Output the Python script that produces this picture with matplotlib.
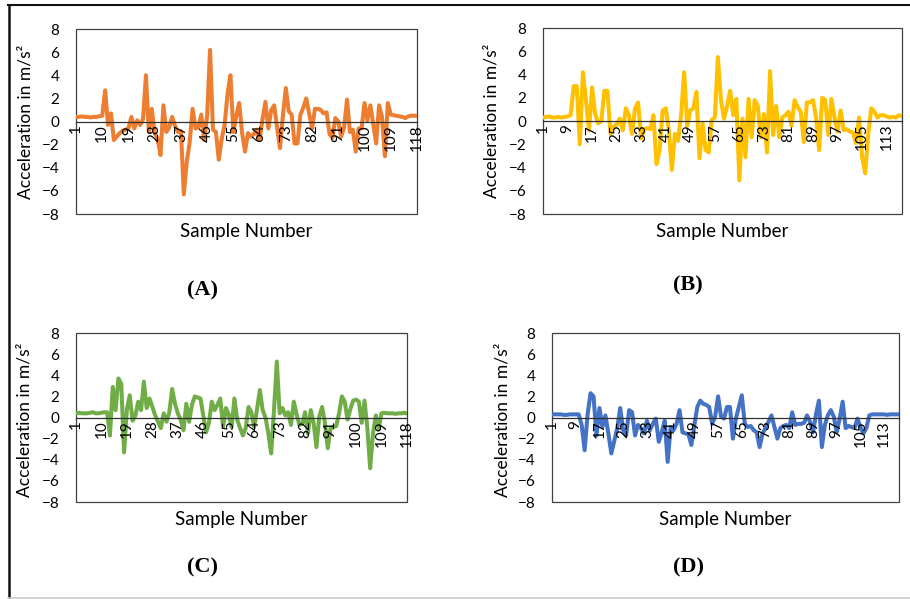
import matplotlib.pyplot as plt
from matplotlib.lines import Line2D
from matplotlib.patches import Rectangle
import numpy as np

plt.rcParams['font.family'] = ['Lato', 'DejaVu Sans']

# sample numbers 1..118 for every panel
samples = np.arange(1, 119)

# (A) orange
acc_a = [0.4, 0.4, 0.45, 0.4, 0.4, 0.35, 0.4, 0.4, 0.45, 0.5,
         2.7, -0.3, 0.7, -1.6, -1.3, -1.0, -0.8, -0.7, -0.6, 0.4,
         -0.6, 0.1, -0.3, 0.2, 4.0, -0.9, 1.1, -1.0, -1.5, -2.9,
         1.4, -0.9, -0.5, 0.4, -0.4, -0.9, -0.8, -6.3, -3.5, -1.8,
         1.1, -0.6, -0.5, 0.6, -1.6, 0.5, 6.2, -0.7, -0.9, -3.3,
         -1.5, -0.3, 2.4, 4.0, -0.9, 0.5, 1.6, -1.0, -2.6, -1.0,
         -1.3, -1.1, -0.7, -1.6, 0.2, 1.7, -0.6, 1.0, 1.4, -0.5,
         -2.3, 0.5, 2.9, 0.9, 0.6, -1.9, -1.9, 0.6, 1.2, 2.0,
         0.7, -0.6, 1.1, 1.1, 1.0, 0.7, 0.8, -1.1, -1.4, 0.3,
         0.0, -1.3, -0.5, 1.9, -0.9, -0.7, -2.6, -0.6, -0.6, 1.6,
         0.1, 1.4, -0.2, -1.9, 1.4, 0.4, -3.0, 1.6, 0.6, 0.55,
         0.5, 0.45, 0.4, 0.3, 0.45, 0.5, 0.5, 0.5]

# (B) yellow
acc_b = [0.3, 0.35, 0.4, 0.3, 0.3, 0.35, 0.3, 0.35, 0.4, 0.5,
         3.0, 3.0, -2.0, 4.2, 1.8, -0.8, 2.9, 0.6, -0.2, 0.0,
         2.6, 2.6, -1.1, -0.5, -0.3, 0.2, -0.8, 1.1, 0.5, -1.1,
         1.1, 1.6, -1.5, -0.7, -0.6, -0.7, 0.5, -3.7, -2.5, 0.9,
         1.1, -0.8, -4.2, -1.1, -1.7, 0.5, 4.2, -0.4, 0.9, 1.1,
         2.5, -3.2, -0.2, -2.5, -2.7, 0.1, 0.3, 5.5, 1.8, 0.2,
         1.3, 2.6, 0.5, 1.9, -5.1, 0.2, -3.1, 1.9, -1.4, 1.8,
         1.3, -1.4, 0.6, -2.7, 4.3, -1.2, 1.3, -1.4, 0.3, 0.5,
         0.8, -0.4, 1.8, 1.2, 0.8, -1.8, 1.6, 1.6, 1.8, 0.3,
         -2.5, 2.0, 1.8, -1.2, 1.9, 0.3, -0.9, 0.9, -0.8, -0.7,
         -0.9, -1.0, -1.9, 0.3, -3.1, -4.5, -1.1, 1.1, 0.8, 0.3,
         0.5, 0.5, 0.4, 0.3, 0.35, 0.3, 0.5, 0.4]

# (C) green
acc_c = [0.4, 0.45, 0.4, 0.4, 0.4, 0.45, 0.5, 0.4, 0.4, 0.45,
         0.5, 0.5, -1.7, 2.9, 0.7, 3.7, 3.2, -3.3, 0.8, 2.1,
         -0.3, 0.2, 1.5, 0.7, 3.4, 0.9, 1.8, 1.0, 0.2, -0.4,
         -1.0, 0.4, -0.4, 0.5, 2.7, 1.3, 0.4, -0.2, -1.2, 1.3,
         -0.4, 1.2, 2.0, 1.9, 1.8, 0.2, -1.4, -0.5, 1.5, 0.7,
         1.2, 1.8, -0.9, 0.9, 0.3, -0.9, 1.8, -0.2, -1.0, -1.7,
         -1.0, 1.0, 0.5, -0.9, 0.8, 2.6, 0.7, 0.0, -1.5, -3.4,
         0.7, 5.3, 0.4, 0.9, 0.2, 0.5, -0.7, 1.5, 0.3, -0.7,
         -0.6, 0.5, -1.5, 0.7, -0.5, -2.8, 0.1, 1.0, -0.5, -2.9,
         -1.0, -0.9, -0.8, 0.4, 2.0, 1.5, -0.2, 0.8, 1.6, 1.7,
         1.5, -0.5, 1.6, -1.0, -4.8, -1.5, 0.2, -1.0, 0.4, 0.45,
         0.4, 0.4, 0.4, 0.35, 0.4, 0.4, 0.45, 0.4]

# (D) blue
acc_d = [0.3, 0.3, 0.3, 0.3, 0.25, 0.25, 0.3, 0.3, 0.3, 0.3,
         -0.7, -3.1, 0.3, 2.3, 2.0, -1.7, 0.9, -0.9, 0.2, -1.5,
         -3.4, -2.2, -1.0, 0.9, -1.2, -1.7, 0.7, 0.5, -1.7, -0.7,
         -1.0, -1.5, -0.3, -1.2, -0.6, -0.1, -2.3, -1.4, -0.3, -4.2,
         -0.9, -1.2, -0.6, 0.7, -1.4, -1.5, -1.6, -2.6, -0.7, 1.0,
         1.6, 1.3, 1.2, 1.0, -0.6, 0.1, 2.0, 0.1, -0.1, 1.0,
         1.0, -2.0, -0.1, 1.0, 2.1, -0.6, -0.9, -0.8, -1.2, -1.4,
         -2.8, -1.5, -1.0, -0.4, 0.2, -0.9, -2.0, -1.0, -0.8, -0.7,
         -1.0, 0.5, -0.7, -0.6, -0.6, -0.5, 0.2, -0.4, -1.4, 0.3,
         1.6, -2.8, -0.7, 0.2, 0.7, 0.1, -1.4, -0.1, 1.5, -1.0,
         -0.8, -0.9, -1.0, -0.1, -0.9, -1.5, -1.0, 0.2, 0.3, 0.3,
         0.3, 0.3, 0.3, 0.25, 0.3, 0.3, 0.3, 0.3]

letters = ['(A)', '(B)', '(C)', '(D)']
colors = ['#ED7D31', '#FFC000', '#70AD47', '#4472C4']
tick_steps = [9, 8, 9, 8]
yticks = [-8, -6, -4, -2, 0, 2, 4, 6, 8]

fig = plt.figure(figsize=(9.1, 5.99), dpi=100)

# axes boxes [left, bottom, width, height] in figure fractions
boxes = [[0.0835, 0.6427, 0.3747, 0.3088],
         [0.5967, 0.6427, 0.3945, 0.3105],
         [0.0835, 0.1619, 0.3637, 0.2821],
         [0.6066, 0.1619, 0.3813, 0.2821]]
ylab_x = [-0.126, -0.12, -0.13, -0.121]
ylab_y = [0.5, 0.5, 0.485, 0.485]
xlab_y = [-0.05, -0.05, -0.055, -0.055]
letter_pos = [(202, 290), (688, 285), (202, 567), (688, 567)]

data = [acc_a, acc_b, acc_c, acc_d]

for i in range(4):
    ax = fig.add_axes(boxes[i])
    ax.plot(samples, data[i], color=colors[i], lw=2.9, solid_joinstyle='round')
    ax.set_xlim(1, 118)
    ax.set_ylim(-8, 8)
    ax.set_yticks(yticks)
    ax.set_xticks(samples[::tick_steps[i]])
    ax.set_axisbelow(False)
    ax.tick_params(axis='x', length=0, pad=2, labelsize=11, labelrotation=90)
    ax.tick_params(axis='y', length=0, pad=12, labelsize=11)
    # excel style: category axis crosses at zero
    for s in ['top', 'right', 'left']:
        ax.spines[s].set_visible(False)
    ax.spines['bottom'].set_position(('data', 0))
    ax.spines['bottom'].set_color('#303030')
    ax.spines['bottom'].set_linewidth(0.9)
    ax.add_patch(Rectangle((0, 0), 1, 1, transform=ax.transAxes, fill=False,
                           edgecolor='#404040', lw=0.9, clip_on=False))
    ax.set_xlabel('Sample Number', fontsize=13.5)
    ax.xaxis.set_label_coords(0.5, xlab_y[i])
    ax.set_ylabel('Acceleration in m/s²', fontsize=12.5)
    ax.yaxis.set_label_coords(ylab_x[i], ylab_y[i])
    fig.text(letter_pos[i][0] / 910, 1 - letter_pos[i][1] / 599, letters[i],
             family='Liberation Serif', weight='bold', fontsize=16,
             ha='center', va='center')

# outer frame of the figure (top, left, bottom)
fig.add_artist(Line2D([8 / 910, 1], [1 - 5 / 599, 1 - 5 / 599], color='#111111', lw=1.5))
fig.add_artist(Line2D([8.5 / 910, 8.5 / 910], [1 - 5 / 599, 1 - 598 / 599], color='#111111', lw=1.8))
fig.add_artist(Line2D([8 / 910, 1], [1 - 598 / 599, 1 - 598 / 599], color='#cccccc', lw=1.2))

plt.savefig('out.png', dpi=100)
